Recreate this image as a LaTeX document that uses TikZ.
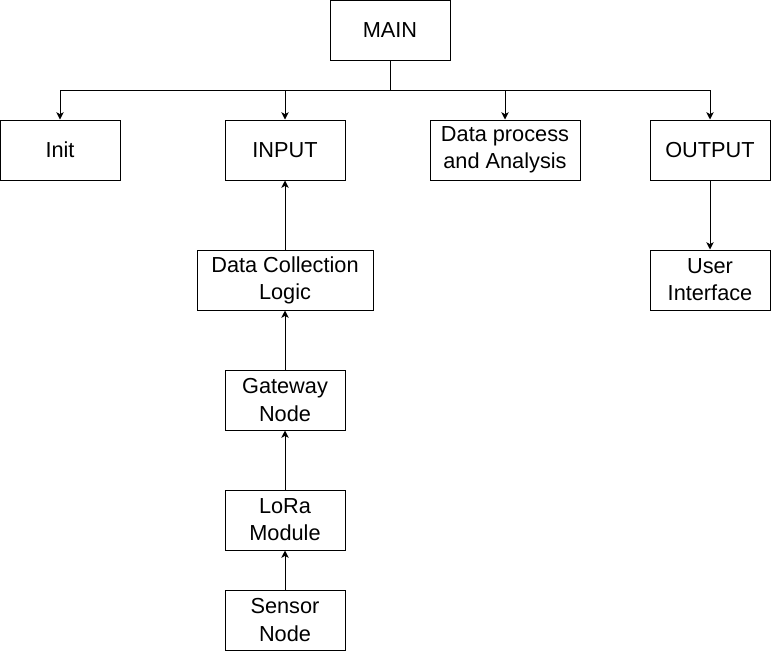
\documentclass[tikz,border=0pt]{standalone}
\usepackage{fontspec}
\setmainfont{Liberation Sans}
\usetikzlibrary{arrows.meta}
\begin{document}
\begin{tikzpicture}[
	x=0.75pt, y=-0.75pt,
	line width=0.75pt,
	box/.style={draw, rectangle, align=center, minimum width=90pt, minimum height=45pt, inner sep=1pt,
		font=\fontsize{16.3}{20.4}\selectfont},
	arr/.style={-{Stealth[length=5.5pt, width=5.5pt, inset=1.5pt]}},
	]
	\useasboundingbox (0,0) rectangle (771,651);
	\node [box] (main) at (390,30) {MAIN};
	\node [box] (init) at (60,150) {Init};
	\node [box] (input) at (285,150) {INPUT};
	\node [box, minimum width=112.5pt] (dpa) at (505,150) {Data process\\and Analysis};
	\node [box] (output) at (710,150) {OUTPUT};
	\node [box, minimum width=132pt] (dcl) at (285,280) {Data Collection\\Logic};
	\node [box] (ui) at (710,280) {User\\Interface};
	\node [box] (gw) at (285,400) {Gateway\\Node};
	\node [box] (lora) at (285,520) {LoRa\\Module};
	\node [box] (sensor) at (285,620) {Sensor\\Node};
	\coordinate (bus) at (390,90);
	\foreach \n in {init,input,dpa,output}
		\draw [arr] (main.south) -- (bus) -| (\n.north);
	\draw [arr] (dcl.north) -- (input.south);
	\draw [arr] (gw.north) -- (dcl.south);
	\draw [arr] (lora.north) -- (gw.south);
	\draw [arr] (sensor.north) -- (lora.south);
	\draw [arr] (output.south) -- (ui.north);
\end{tikzpicture}
\end{document}
